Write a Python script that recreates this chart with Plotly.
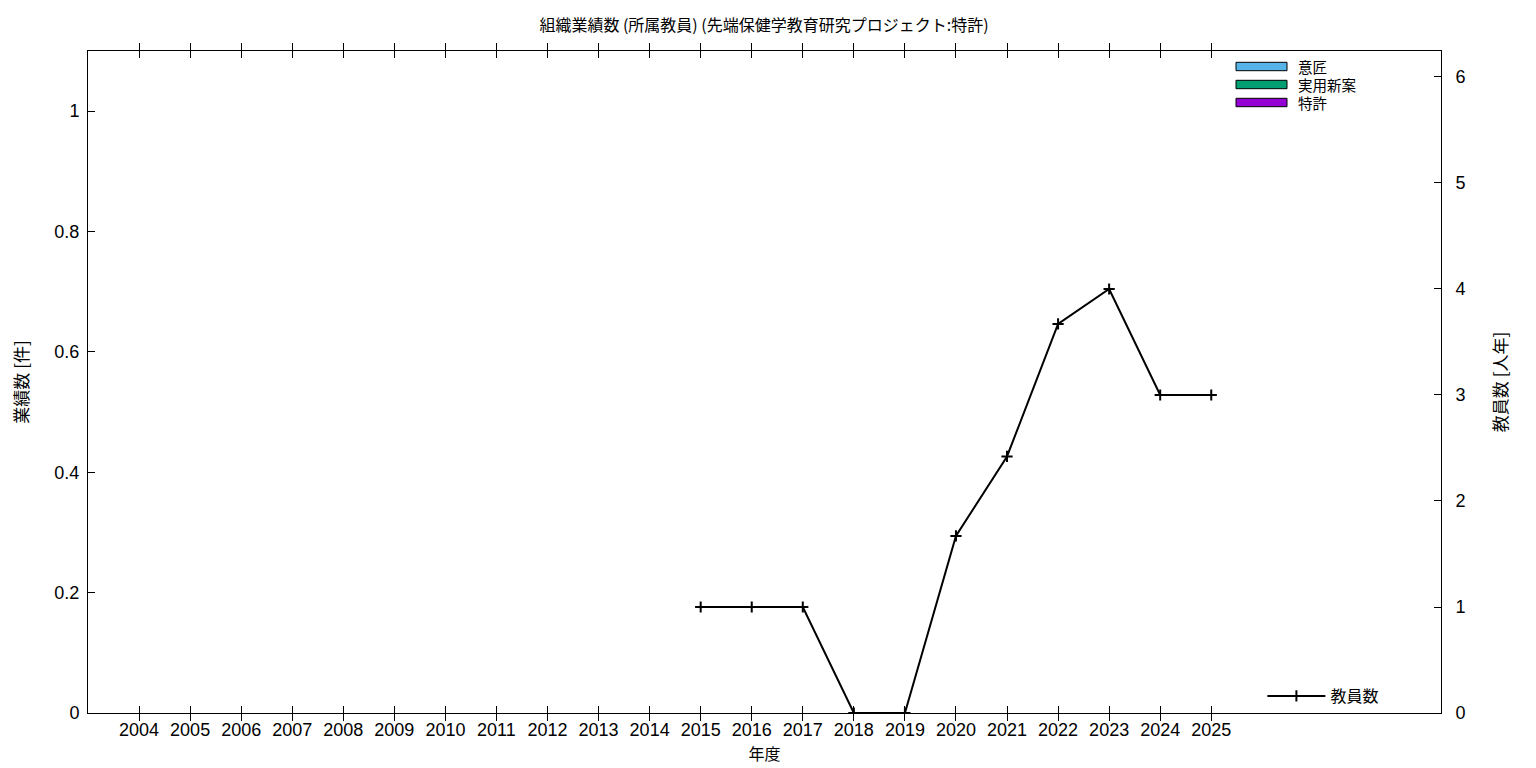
import plotly.graph_objects as go

years = list(range(2004, 2026))
design = [0] * len(years)          # 意匠
utility = [0] * len(years)         # 実用新案
patent = [0] * len(years)          # 特許
staff_years = [2015, 2016, 2017, 2018, 2019, 2020, 2021, 2022, 2023, 2024, 2025]
staff = [1, 1, 1, 0, 0, 1.67, 2.42, 3.67, 4, 3, 3]  # 教員数

bar_series = [("意匠", design, "#56b4e9"), ("実用新案", utility, "#009e73"), ("特許", patent, "#9400d3")]

JP = "Noto Sans CJK JP"
NUM = "Liberation Sans"

W, H = 1536, 768
OFF = 8  # page body margin
# plot area in screen pixels: left 88, top 51, right 1441, bottom 713
ml = 88 - OFF
mt = 51 - OFF
mr = W - (1441 - OFF)
mb = H - (713 - OFF)
pw, ph = W - ml - mr, H - mt - mb


def px(x):
    return (x - OFF - ml) / pw


def py(y):
    return (H - mb - (y - OFF)) / ph


fig = go.Figure()
for name, vals, col in bar_series:
    fig.add_trace(go.Bar(x=years, y=vals, name=name, marker=dict(color=col, line=dict(color="black", width=1)),
                         width=0.6, showlegend=False))

fig.add_trace(go.Scatter(x=staff_years, y=staff, name="教員数", mode="lines+markers", yaxis="y2",
                         line=dict(color="black", width=2),
                         marker=dict(symbol="cross-thin", size=8, line=dict(color="black", width=2)),
                         legend="legend2"))

shapes = []
annotations = []
for i, (name, vals, col) in enumerate(bar_series):
    yc = 66.5 + i * 18
    shapes.append(dict(type="rect", xref="paper", yref="paper", x0=px(1236), x1=px(1287),
                       y0=py(yc + 4.2), y1=py(yc - 4.2), fillcolor=col, line=dict(color="black", width=1)))
    annotations.append(dict(text=name, xref="paper", yref="paper", x=px(1297), y=py(yc), xanchor="left",
                            yanchor="middle", showarrow=False, borderpad=0,
                            font=dict(family=JP, size=14.5, color="black")))

fig.update_layout(
    width=W, height=H,
    margin=dict(l=ml, r=mr, t=mt, b=mb),
    plot_bgcolor="white", paper_bgcolor="white",
    barmode="stack",
    shapes=shapes, annotations=annotations,
    title=dict(text="組織業績数 (所属教員) (先端保健学教育研究プロジェクト:特許)", x=(764 - OFF) / W, xanchor="center",
               y=1 - (25 - OFF) / H, yanchor="middle", font=dict(family=JP, size=16, color="black")),
    xaxis=dict(range=[2003, 2029.5], tickvals=years, ticktext=[str(y) for y in years],
               ticks="inside", ticklen=7, tickcolor="black", showline=True, linecolor="black", linewidth=1,
               mirror="allticks", showgrid=False, zeroline=False, automargin=False,
               tickfont=dict(family=NUM, size=18, color="black"),
               title=dict(text="年度", font=dict(family=JP, size=16, color="black"), standoff=10)),
    yaxis=dict(range=[0, 1.1], tickvals=[0, 0.2, 0.4, 0.6, 0.8, 1], ticktext=["0", "0.2", "0.4", "0.6", "0.8", "1"],
               ticks="inside", ticklen=7, tickcolor="black", showline=True, linecolor="black", linewidth=1,
               showgrid=False, zeroline=False, automargin=False, ticklabelstandoff=4,
               tickfont=dict(family=NUM, size=18, color="black"),
               title=dict(text="業績数 [件]", font=dict(family=JP, size=17, color="black"), standoff=32)),
    yaxis2=dict(range=[0, 6.245], tickvals=[0, 1, 2, 3, 4, 5, 6], overlaying="y", side="right",
                ticks="inside", ticklen=7, tickcolor="black", showline=True, linecolor="black", linewidth=1,
                showgrid=False, zeroline=False, automargin=False, ticklabelstandoff=10,
                tickfont=dict(family=NUM, size=18, color="black"),
                title=dict(text="教員数 [人年]", font=dict(family=JP, size=17, color="black"), standoff=30)),
    legend2=dict(x=0.868, y=0.0, xanchor="left", yanchor="bottom", bgcolor="rgba(0,0,0,0)",
                 font=dict(family=JP, size=16, color="black"), itemwidth=58),
    showlegend=True,
)

fig.write_html("out.html")
